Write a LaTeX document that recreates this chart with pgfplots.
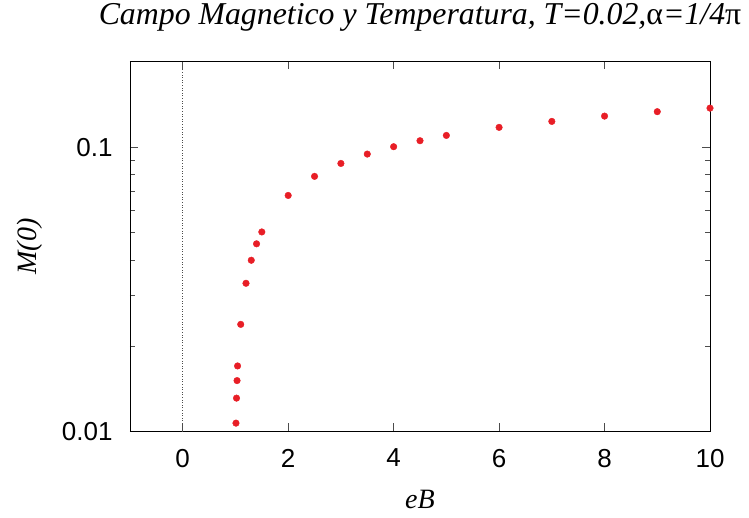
\documentclass[border=0pt]{standalone}
\usepackage{fontspec}
\setmainfont{Liberation Serif}
\newfontfamily\tickfont{Liberation Sans}
\usepackage{pgfplots}
\pgfplotsset{compat=1.18}
\definecolor{dotred}{RGB}{232,30,38}
\begin{document}
\begin{tikzpicture}
\begin{axis}[
  scale only axis,
  width=580pt, height=370pt,
  xmin=-1, xmax=10,
  ymode=log, ymin=0.01, ymax=0.2,
  xtick={0,2,4,6,8,10},
  xticklabels={0,2,4,6,8,10},
  ytick={0.01,0.1},
  yticklabels={0.01,0.1},
  minor ytick={0.02,0.03,0.04,0.05,0.06,0.07,0.08,0.09,0.2},
  tick align=inside,
  major tick length=8pt,
  minor tick length=5pt,
  every tick/.style={black!70, line width=0.6pt},
  axis line style={black, line width=0.8pt},
  ticklabel style={font=\tickfont\fontsize{26}{30}\selectfont},
  xticklabel style={anchor=north, yshift=-14pt},
  yticklabel style={anchor=east, xshift=-14pt},
  xlabel={\itshape eB},
  ylabel={\itshape M(0)},
  label style={font=\fontsize{28}{32}\selectfont},
  xlabel style={at={(axis description cs:0.5,0)}, anchor=base, yshift=-77pt},
  ylabel style={at={(axis description cs:-0.172,0.5)}, anchor=center},
  title={\itshape Campo Magnetico y Temperatura, T=0.02,{\upshape α}=1/4{\upshape π}},
  title style={font=\fontsize{31.8}{36}\selectfont, at={(axis description cs:0.5,1)}, anchor=base, yshift=31pt},
  clip=false,
]
\addplot[black!70, dotted, line width=0.6pt] coordinates {(0,0.01) (0,0.2)};
\addplot[only marks, mark=*, mark size=3.3pt, color=dotred] coordinates {
  (1.01,0.0107) (1.02,0.0131) (1.03,0.0151) (1.04,0.0170)
  (1.1,0.0238) (1.2,0.0332) (1.3,0.0400) (1.4,0.0457) (1.5,0.0503)
  (2,0.0676) (2.5,0.0789) (3,0.0876) (3.5,0.0945) (4,0.1003)
  (4.5,0.1053) (5,0.1099) (6,0.1173) (7,0.1231) (8,0.1285)
  (9,0.1332) (10,0.1371)
};
\end{axis}
\path (current axis.south west) ++(-130pt,-86pt) rectangle ([shift={(39pt,60pt)}]current axis.north east);
\end{tikzpicture}
\end{document}
